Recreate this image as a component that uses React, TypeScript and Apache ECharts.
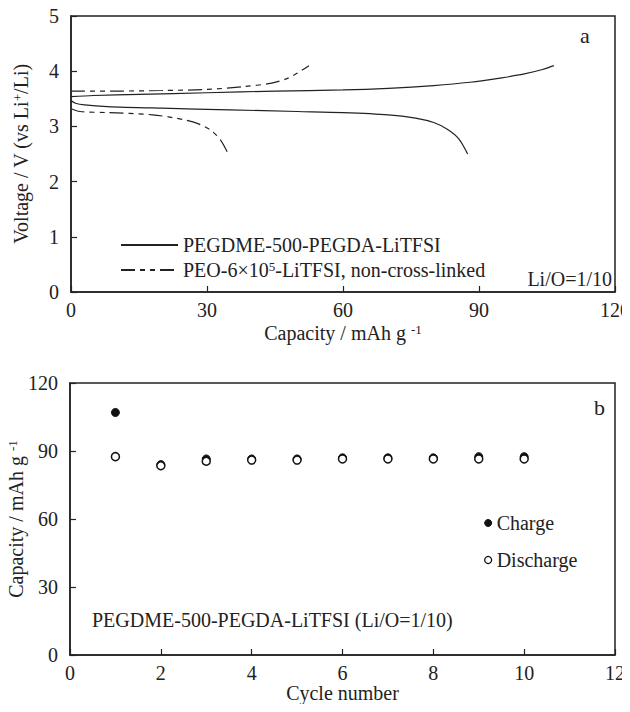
import React, { useEffect, useRef } from "react";
import * as echarts from "echarts";

// ---- Panel a: voltage profiles ----
const pegdmeChargeCap = [0, 5, 15, 30, 45, 60, 70, 80, 88, 95, 100, 104, 106.5];
const pegdmeChargeV = [3.54, 3.56, 3.58, 3.61, 3.64, 3.66, 3.69, 3.74, 3.8, 3.88, 3.95, 4.03, 4.1];
const pegdmeDischargeCap = [0, 1, 3, 8, 20, 35, 50, 60, 70, 76, 80, 83, 85.5, 87.5];
const pegdmeDischargeV = [3.47, 3.42, 3.39, 3.36, 3.33, 3.3, 3.27, 3.25, 3.21, 3.15, 3.07, 2.95, 2.78, 2.5];
const peoChargeCap = [0, 10, 20, 30, 38, 44, 47.5, 50, 52.5];
const peoChargeV = [3.64, 3.64, 3.65, 3.67, 3.72, 3.78, 3.86, 3.97, 4.1];
const peoDischargeCap = [0, 2, 8, 18, 25, 28, 31, 33, 34.7];
const peoDischargeV = [3.32, 3.27, 3.25, 3.21, 3.12, 3.05, 2.92, 2.75, 2.5];

// ---- Panel b: cycling ----
const cycles = [1, 2, 3, 4, 5, 6, 7, 8, 9, 10];
const chargeCap = [107, 84, 86.5, 86.5, 86.5, 87, 87, 87, 87.5, 87.5];
const dischargeCap = [87.5, 83.5, 85.5, 86, 86, 86.5, 86.5, 86.5, 86.5, 86.5];

const NAME_PEGDME = "PEGDME-500-PEGDA-LiTFSI";
const NAME_PEO = "PEO-6×10{sup|5}-LiTFSI, non-cross-linked";

const FONT = "Liberation Serif";
const FS = 20;
const INK = "#222";

const zip = (xs: number[], ys: number[]) => xs.map((x, i) => [x, ys[i]]);

export default function App() {
  const ref = useRef<HTMLDivElement>(null);
  useEffect(() => {
    if (!ref.current) return;
    const chart = echarts.init(ref.current, null, { renderer: "svg" });
    const txt = { fontFamily: FONT, fontSize: FS, color: INK };
    const sup = { fontFamily: FONT, fontSize: 13, color: INK, verticalAlign: "top" as const };
    const axisBase = {
      axisLine: { show: true, lineStyle: { color: INK, width: 1.5 } },
      axisTick: { show: true, inside: true, length: 6, lineStyle: { color: INK, width: 1.2 } },
      splitLine: { show: false },
      nameMoveOverlap: false,
    };
    const xLab = { axisLabel: { ...txt, margin: 8 } };
    const yLab = { axisLabel: { ...txt, margin: 12 } };
    const dashed = [14, 5, 5, 5, 5, 5];
    const lineCommon = {
      type: "line", xAxisIndex: 0, yAxisIndex: 0, showSymbol: false, symbol: "none", smooth: 0.3,
      itemStyle: { color: INK },
    };
    const gridCommon = {
      show: true, borderColor: INK, borderWidth: 1.5, backgroundColor: "transparent",
      containLabel: false, outerBoundsMode: "none",
    };
    chart.setOption({
      animation: false,
      backgroundColor: "#fff",
      grid: [
        { ...gridCommon, left: 71, top: 16, width: 544, height: 276 },
        { ...gridCommon, left: 70, top: 383, width: 545, height: 272 },
      ],
      xAxis: [
        {
          gridIndex: 0, type: "value", min: 0, max: 120, interval: 30, ...axisBase, ...xLab,
          name: "Capacity / mAh g {sup|-1}", nameLocation: "middle", nameGap: 31,
          nameTextStyle: { ...txt, rich: { sup } },
        },
        {
          gridIndex: 1, type: "value", min: 0, max: 12, interval: 2, ...axisBase, ...xLab,
          name: "Cycle number", nameLocation: "middle", nameGap: 28,
          nameTextStyle: { ...txt },
        },
      ],
      yAxis: [
        {
          gridIndex: 0, type: "value", min: 0, max: 5, interval: 1, ...axisBase, ...yLab,
          name: "Voltage / V (vs Li{sup|+}/Li)", nameLocation: "middle", nameGap: 40,
          nameTextStyle: { ...txt, rich: { sup } },
        },
        {
          gridIndex: 1, type: "value", min: 0, max: 120, interval: 30, ...axisBase, ...yLab,
          name: "Capacity / mAh g {sup|-1}", nameLocation: "middle", nameGap: 44,
          nameTextStyle: { ...txt, rich: { sup } },
        },
      ],
      legend: [
        {
          data: [NAME_PEGDME, NAME_PEO],
          orient: "vertical", left: 120, top: 235, padding: 0, itemWidth: 57, itemHeight: 12, itemGap: 5,
          itemStyle: { color: "rgba(0,0,0,0)", borderColor: "rgba(0,0,0,0)", borderWidth: 0 },
          textStyle: { ...txt, rich: { sup } },
          selectedMode: false,
        },
        {
          data: [
            { name: "Charge", itemStyle: { color: "#111", borderColor: "#111", borderWidth: 1, opacity: 1 } },
            { name: "Discharge", itemStyle: { color: "#fff", borderColor: "#111", borderWidth: 1.3, opacity: 1 } },
          ],
          orient: "vertical", left: 484, top: 513, padding: 0, itemWidth: 7, itemHeight: 7, itemGap: 17,
          icon: "circle",
          textStyle: { ...txt },
          selectedMode: false,
        },
      ],
      series: [
        { ...lineCommon, name: NAME_PEGDME, lineStyle: { color: INK, width: 1.2, type: "solid" }, data: zip(pegdmeChargeCap, pegdmeChargeV) },
        { ...lineCommon, name: NAME_PEGDME, lineStyle: { color: INK, width: 1.2, type: "solid" }, data: zip(pegdmeDischargeCap, pegdmeDischargeV) },
        { ...lineCommon, name: NAME_PEO, lineStyle: { color: INK, width: 1.2, type: dashed }, data: zip(peoChargeCap, peoChargeV) },
        { ...lineCommon, name: NAME_PEO, lineStyle: { color: INK, width: 1.2, type: dashed }, data: zip(peoDischargeCap, peoDischargeV) },
        {
          name: "Charge", type: "scatter", xAxisIndex: 1, yAxisIndex: 1, symbol: "circle", symbolSize: 8,
          itemStyle: { color: "#111", borderColor: "#111", borderWidth: 1, opacity: 1 },
          data: zip(cycles, chargeCap),
        },
        {
          name: "Discharge", type: "scatter", xAxisIndex: 1, yAxisIndex: 1, symbol: "circle", symbolSize: 8,
          itemStyle: { color: "#fff", borderColor: "#111", borderWidth: 1.5, opacity: 1 },
          data: zip(cycles, dischargeCap),
        },
      ],
      graphic: [
        { type: "text", left: 580, top: 24, style: { text: "a", font: `${FS + 2}px '${FONT}'`, fill: INK } },
        { type: "text", left: 594, top: 396, style: { text: "b", font: `${FS + 2}px '${FONT}'`, fill: INK } },
        { type: "text", right: 18, top: 269, style: { text: "Li/O=1/10", font: `${FS}px '${FONT}'`, fill: INK } },
        { type: "text", left: 92, top: 610, style: { text: "PEGDME-500-PEGDA-LiTFSI (Li/O=1/10)", font: `${FS}px '${FONT}'`, fill: INK } },
      ],
    });
    return () => chart.dispose();
  }, []);
  return <div ref={ref} style={{ width: 630, height: 712, margin: -8 }} />;
}
